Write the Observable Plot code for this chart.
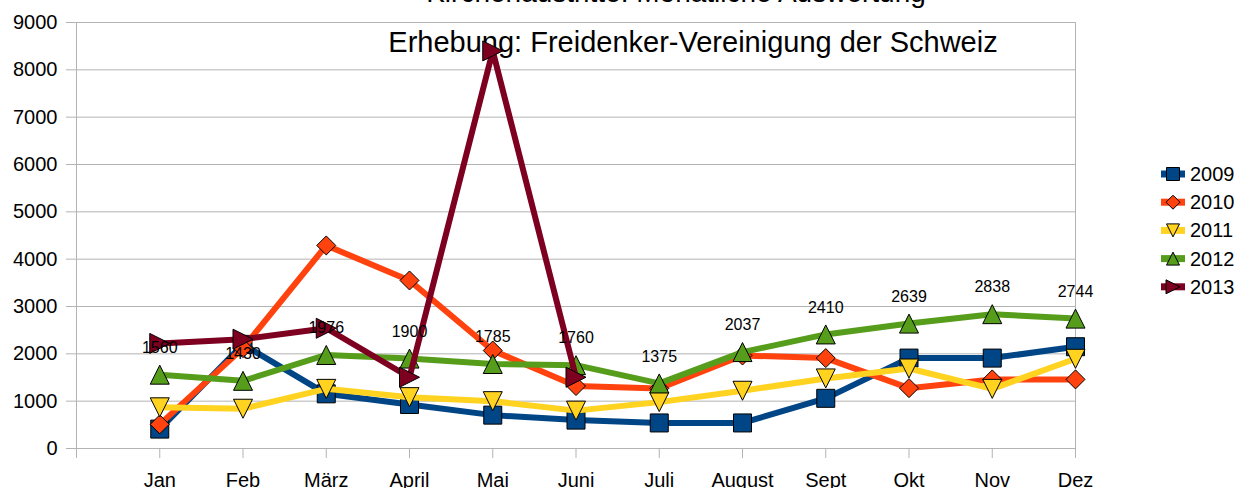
<!DOCTYPE html>
<html><head><meta charset="utf-8">
<script src="https://cdn.jsdelivr.net/npm/d3@7"></script>
<script src="https://cdn.jsdelivr.net/npm/@observablehq/plot@0.6"></script>
<style>
html,body{margin:0;padding:0;background:#fff;}
#wrap{position:relative;width:1243px;height:488px;overflow:hidden;font-family:"Liberation Sans",Arial,sans-serif;}
#bg,#chart,#legend{position:absolute;left:0;top:0;}
</style></head><body>
<div id="wrap">
<svg id="bg" width="1243" height="488"></svg>
<div id="chart"></div>
<svg id="legend" width="1243" height="488"></svg>
</div>
<script>
const title = "Kirchenaustritte: Monatliche Auswertung";
const subtitle = "Erhebung: Freidenker-Vereinigung der Schweiz";
const months = ["Jan","Feb","März","April","Mai","Juni","Juli","August","Sept","Okt","Nov","Dez"];
const years = ["2009","2010","2011","2012","2013"];
const v2009 = [410, 2200, 1155, 930, 705, 600, 540, 540, 1060, 1910, 1910, 2150];
const v2010 = [510, 2120, 4290, 3550, 2070, 1320, 1270, 1965, 1910, 1275, 1460, 1460];
const v2011 = [870, 840, 1260, 1085, 1000, 800, 980, 1220, 1480, 1690, 1260, 1895];
const v2012 = [1560, 1430, 1976, 1900, 1785, 1760, 1375, 2037, 2410, 2639, 2838, 2744];
const v2013 = [2220, 2310, 2540, 1505, 8400, 1505];
const yTicks = [0,1000,2000,3000,4000,5000,6000,7000,8000,9000];
const colors = ["#004586","#ff420e","#ffd320","#579d1c","#7e0021"];

const rr = s => Math.sqrt(s / Math.PI);
const symSquare = {draw(c,s){const h=rr(s);c.moveTo(-h,-h);c.lineTo(h,-h);c.lineTo(h,h);c.lineTo(-h,h);c.closePath();}};
const symDiamond = {draw(c,s){const h=rr(s);c.moveTo(0,-h);c.lineTo(h,0);c.lineTo(0,h);c.lineTo(-h,0);c.closePath();}};
const symDown = {draw(c,s){const h=rr(s);c.moveTo(-h,-h);c.lineTo(h,-h);c.lineTo(0,h);c.closePath();}};
const symUp = {draw(c,s){const h=rr(s);c.moveTo(-h,h);c.lineTo(h,h);c.lineTo(0,-h);c.closePath();}};
const symRight = {draw(c,s){const h=rr(s);c.moveTo(-h,-h);c.lineTo(h,0);c.lineTo(-h,h);c.closePath();}};

const seriesValues = [v2009, v2010, v2011, v2012, v2013];
const symbols = [symSquare, symDiamond, symDown, symUp, symRight];
const sizes = [9, 9.5, 9.5, 9.5, 10];
const legendSizes = [6.5, 7, 6.5, 6.5, 7];

const series = years.map((y, k) => ({
  year: y, color: colors[k], symbol: symbols[k], r: sizes[k],
  rows: seriesValues[k].map((v, i) => ({i: i + 1, v, month: months[i]}))
}));

const marks = [
  Plot.gridY({ticks: yTicks, stroke: "#b3b3b3", strokeOpacity: 1}),
  Plot.frame({stroke: "#b3b3b3"}),
  Plot.axisY({ticks: yTicks, tickFormat: d3.format("d"), tickSize: 10, tickPadding: 9, stroke: "#b3b3b3", fill: "black", label: null}),
  Plot.axisX({ticks: d3.range(0, 13), tickFormat: i => i === 0 ? "" : months[i - 1], tickSize: 10, tickPadding: 14, stroke: "#b3b3b3", fill: "black", label: null})
];
series.forEach(s => {
  marks.push(Plot.line(s.rows, {x: "i", y: "v", stroke: s.color, strokeWidth: 6}));
  marks.push(Plot.dot(s.rows, {x: "i", y: "v", symbol: s.symbol, r: s.r, fill: s.color, stroke: "black", strokeWidth: 1}));
});
marks.push(Plot.text(series[3].rows, {x: "i", y: "v", text: d => String(d.v), dy: -27, fontSize: 16, fill: "black"}));

const chart = Plot.plot({
  width: 1243, height: 488,
  marginLeft: 76, marginRight: 168, marginTop: 22, marginBottom: 40,
  style: {background: "transparent", fontFamily: "'Liberation Sans', Arial, sans-serif", fontSize: "20px", color: "black"},
  x: {type: "linear", domain: [0, 12]},
  y: {domain: [0, 9000]},
  marks
});
document.getElementById("chart").appendChild(chart);

// title & subtitle
const bg = d3.select("#bg");
bg.append("text").attr("x", 676).attr("y", 1.5).attr("text-anchor", "middle")
  .attr("font-size", 28).attr("fill", "black").text(title);
bg.append("text").attr("x", 693).attr("y", 52).attr("text-anchor", "middle")
  .attr("font-size", 29).attr("fill", "black").text(subtitle);

// legend
const lg = d3.select("#legend");
series.forEach((s, k) => {
  const cy = 174 + k * 28.2;
  const g = lg.append("g");
  g.append("line").attr("x1", 1161).attr("x2", 1185).attr("y1", cy).attr("y2", cy)
    .attr("stroke", s.color).attr("stroke-width", 7);
  g.append("path").attr("transform", `translate(1173,${cy})`)
    .attr("d", d3.symbol(s.symbol, Math.PI * legendSizes[k] * legendSizes[k])())
    .attr("fill", s.color).attr("stroke", "black").attr("stroke-width", 1);
  g.append("text").attr("x", 1190).attr("y", cy).attr("dy", "0.35em")
    .attr("font-size", 20).attr("fill", "black").text(s.year);
});
</script>
</body></html>
